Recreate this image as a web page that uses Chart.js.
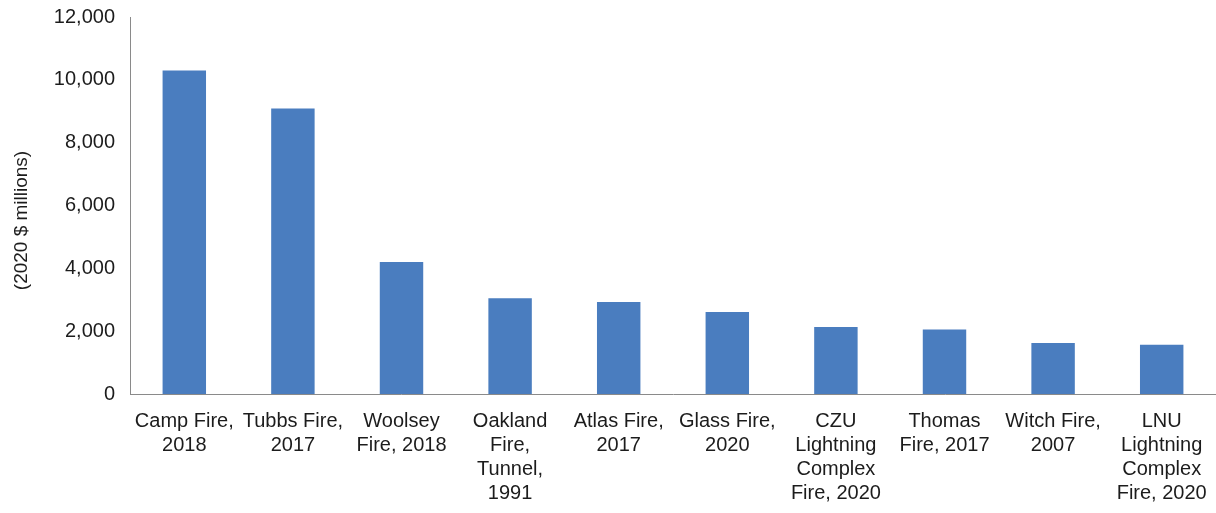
<!DOCTYPE html>
<html>
<head>
<meta charset="utf-8">
<script src="https://cdn.jsdelivr.net/npm/chart.js@4/dist/chart.umd.min.js"></script>
<style>
  html, body { margin: 0; padding: 0; background: #ffffff; }
  #wrap { width: 1216px; height: 513px; position: relative; }
</style>
</head>
<body>
<div id="wrap"><canvas id="chart"></canvas></div>
<script>
// Most costly California wildfires, insured losses in 2020 dollars
const fireNames = [
  ['Camp Fire,', '2018'],
  ['Tubbs Fire,', '2017'],
  ['Woolsey', 'Fire, 2018'],
  ['Oakland', 'Fire,', 'Tunnel,', '1991'],
  ['Atlas Fire,', '2017'],
  ['Glass Fire,', '2020'],
  ['CZU', 'Lightning', 'Complex', 'Fire, 2020'],
  ['Thomas', 'Fire, 2017'],
  ['Witch Fire,', '2007'],
  ['LNU', 'Lightning', 'Complex', 'Fire, 2020']
];
const lossMillions = [10300, 9090, 4200, 3050, 2930, 2610, 2130, 2050, 1620, 1570];
const yTickValues = [0, 2000, 4000, 6000, 8000, 10000, 12000];
const yTitle = '(2020 $ millions)';

const FONT = '"Liberation Sans", Arial, sans-serif';
const TEXT = '#1c1c1c';

// vertical axis caption, drawn beside the value ticks
const yTitlePlugin = {
  id: 'yTitle',
  afterDraw(chart) {
    const ctx = chart.ctx;
    const area = chart.chartArea;
    ctx.save();
    ctx.translate(22, (area.top + area.bottom) / 2 + 15);
    ctx.rotate(-Math.PI / 2);
    ctx.font = '19px ' + FONT;
    ctx.fillStyle = TEXT;
    ctx.textAlign = 'center';
    ctx.textBaseline = 'middle';
    ctx.fillText(yTitle, 0, 0);
    ctx.restore();
  }
};

new Chart(document.getElementById('chart'), {
  type: 'bar',
  data: {
    labels: fireNames,
    datasets: [{
      data: lossMillions,
      backgroundColor: '#4a7dbf',
      borderWidth: 0,
      categoryPercentage: 1.0,
      barPercentage: 0.4
    }]
  },
  options: {
    responsive: true,
    maintainAspectRatio: false,
    animation: false,
    devicePixelRatio: 1,
    layout: { padding: { top: 0, right: 0, bottom: 0, left: 0 } },
    plugins: {
      legend: { display: false },
      tooltip: { enabled: false }
    },
    scales: {
      x: {
        grid: { display: false, drawTicks: false },
        border: { display: true, color: '#8a8a8a', width: 1 },
        ticks: {
          color: TEXT,
          font: { family: FONT, size: 20, lineHeight: 1.2 },
          padding: 15,
          maxRotation: 0,
          autoSkip: false
        },
        afterFit(scale) {
          scale.height = 513 - 394;
          // category labels sit inside their slots, no extra side margin needed
          scale.paddingLeft = 0;
          scale.paddingRight = 0;
        }
      },
      y: {
        min: 0,
        max: 12000,
        grid: { display: false, drawTicks: false },
        border: { display: true, color: '#8a8a8a', width: 1 },
        afterBuildTicks(scale) {
          scale.ticks = yTickValues.map(v => ({ value: v }));
        },
        ticks: {
          color: TEXT,
          // single-line labels: a small line height keeps the top margin tight
          font: { family: FONT, size: 20, lineHeight: 0.2 },
          padding: 15,
          callback: v => v.toLocaleString('en-US')
        },
        afterFit(scale) { scale.width = 130; }
      }
    }
  },
  plugins: [yTitlePlugin]
});
</script>
</body>
</html>
